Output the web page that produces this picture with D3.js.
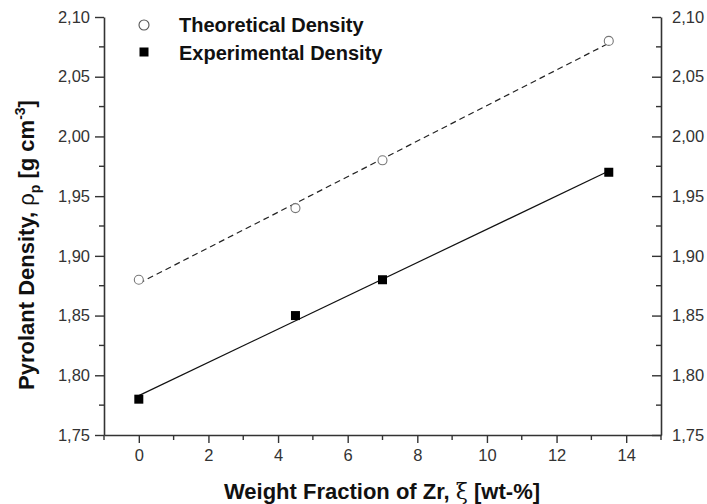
<!DOCTYPE html>
<html>
<head>
<meta charset="utf-8">
<script src="https://cdn.jsdelivr.net/npm/d3@7"></script>
<style>
  body { margin: 0; background: #fff; }
  svg { font-family: "Liberation Sans", Arial, sans-serif; }
</style>
</head>
<body>
<div id="chart"></div>
<script>
// Data
const zrFraction = [0, 4.5, 7, 13.5];
const theoreticalDensity = [1.88, 1.94, 1.98, 2.08];
const experimentalDensity = [1.78, 1.85, 1.88, 1.97];
// linear fit end points
const theoFitX = [0, 13.5];
const theoFitY = [1.877, 2.078];
const expFitX = [0, 13.5];
const expFitY = [1.783, 1.971];

const xTicks = [0, 2, 4, 6, 8, 10, 12, 14];
const yTicks = [1.75, 1.80, 1.85, 1.90, 1.95, 2.00, 2.05, 2.10];

const W = 707, H = 504;
const margin = { top: 17, right: 46, bottom: 69, left: 104 };
const width = W - margin.left - margin.right;
const height = H - margin.top - margin.bottom;

const svg = d3.select("#chart").append("svg")
    .attr("width", W)
    .attr("height", H);

const g = svg.append("g")
    .attr("transform", `translate(${margin.left},${margin.top})`);

const x = d3.scaleLinear().domain([-1, 15]).range([0, width]);
const y = d3.scaleLinear().domain([1.75, 2.10]).range([height, 0]);

const fmt = d => d3.format(".2f")(d).replace(".", ",");
const axisColor = "#333";

// minor ticks
const xMinor = d3.range(-1, 15.01, 1).filter(v => v % 2 !== 0);
const yMinor = d3.range(0, 7).map(i => 1.775 + i * 0.05);

function styleAxis(sel) {
    sel.selectAll("path").attr("stroke", axisColor).attr("stroke-width", 1.6);
    sel.selectAll("line").attr("stroke", axisColor).attr("stroke-width", 1.4);
    sel.selectAll("text")
        .attr("fill", "#333")
        .style("font-size", "16.5px");
}

// bottom axis
const xAxisG = g.append("g")
    .attr("transform", `translate(0,${height})`)
    .call(d3.axisBottom(x).tickValues(xTicks).tickSize(8).tickPadding(6).tickSizeOuter(0))
    .call(styleAxis);
xAxisG.selectAll(".minor").data(xMinor).join("line")
    .attr("x1", d => x(d)).attr("x2", d => x(d))
    .attr("y1", 0).attr("y2", 5)
    .attr("stroke", axisColor).attr("stroke-width", 1.4);

// left axis (ticks outward)
const yAxisL = g.append("g")
    .call(d3.axisLeft(y).tickValues(yTicks).tickFormat(fmt).tickSize(9).tickPadding(5).tickSizeOuter(0))
    .call(styleAxis);
yAxisL.selectAll(".minor").data(yMinor).join("line")
    .attr("x1", 0).attr("x2", -5)
    .attr("y1", d => y(d)).attr("y2", d => y(d))
    .attr("stroke", axisColor).attr("stroke-width", 1.4);

// right axis (ticks point inward)
const yAxisR = g.append("g")
    .attr("transform", `translate(${width},0)`)
    .call(d3.axisRight(y).tickValues(yTicks).tickFormat(fmt).tickSizeInner(-9).tickSizeOuter(0).tickPadding(11))
    .call(styleAxis);
yAxisR.selectAll(".minor").data(yMinor).join("line")
    .attr("x1", 0).attr("x2", -5)
    .attr("y1", d => y(d)).attr("y2", d => y(d))
    .attr("stroke", axisColor).attr("stroke-width", 1.4);

// fit lines
const line = d3.line().x(d => x(d[0])).y(d => y(d[1]));

g.append("path")
    .datum(d3.zip(theoFitX, theoFitY))
    .attr("d", line)
    .attr("fill", "none")
    .attr("stroke", "#222")
    .attr("stroke-width", 1.2)
    .attr("stroke-dasharray", "6,4");

g.append("path")
    .datum(d3.zip(expFitX, expFitY))
    .attr("d", line)
    .attr("fill", "none")
    .attr("stroke", "#111")
    .attr("stroke-width", 1.2);

// points
g.selectAll(".theo").data(d3.zip(zrFraction, theoreticalDensity)).join("circle")
    .attr("class", "theo")
    .attr("cx", d => x(d[0]))
    .attr("cy", d => y(d[1]))
    .attr("r", 4.5)
    .attr("fill", "#fff")
    .attr("stroke", "#777")
    .attr("stroke-width", 1.1);

const sq = 9;
g.selectAll(".exp").data(d3.zip(zrFraction, experimentalDensity)).join("rect")
    .attr("class", "exp")
    .attr("x", d => x(d[0]) - sq / 2)
    .attr("y", d => y(d[1]) - sq / 2)
    .attr("width", sq)
    .attr("height", sq)
    .attr("fill", "#000");

// legend
const legend = svg.append("g");
legend.append("circle")
    .attr("cx", 144).attr("cy", 25).attr("r", 5)
    .attr("fill", "#fff").attr("stroke", "#555").attr("stroke-width", 1.1);
legend.append("text")
    .attr("x", 179).attr("y", 32)
    .attr("font-weight", "bold").style("font-size", "20px").attr("fill", "#111")
    .text("Theoretical Density");
legend.append("rect")
    .attr("x", 144 - sq / 2).attr("y", 52 - sq / 2)
    .attr("width", sq).attr("height", sq).attr("fill", "#000");
legend.append("text")
    .attr("x", 179).attr("y", 60)
    .attr("font-weight", "bold").style("font-size", "20px").attr("fill", "#111")
    .text("Experimental Density");

// axis titles
svg.append("text")
    .attr("x", 382).attr("y", 499)
    .attr("text-anchor", "middle")
    .attr("font-weight", "bold").style("font-size", "22px").attr("fill", "#111")
    .html('Weight Fraction of Zr, <tspan font-weight="normal" font-family="DejaVu Serif">ξ</tspan> [wt-%]');

svg.append("text")
    .attr("transform", "translate(34,245) rotate(-90)")
    .attr("text-anchor", "middle")
    .attr("font-weight", "bold").style("font-size", "22px").attr("fill", "#111")
    .html('Pyrolant Density, <tspan font-weight="normal">ρ</tspan><tspan font-size="14px" dy="6">p</tspan><tspan dy="-6"> [g cm</tspan><tspan font-size="14px" dy="-9">-3</tspan><tspan dy="9">]</tspan>');
</script>
</body>
</html>
